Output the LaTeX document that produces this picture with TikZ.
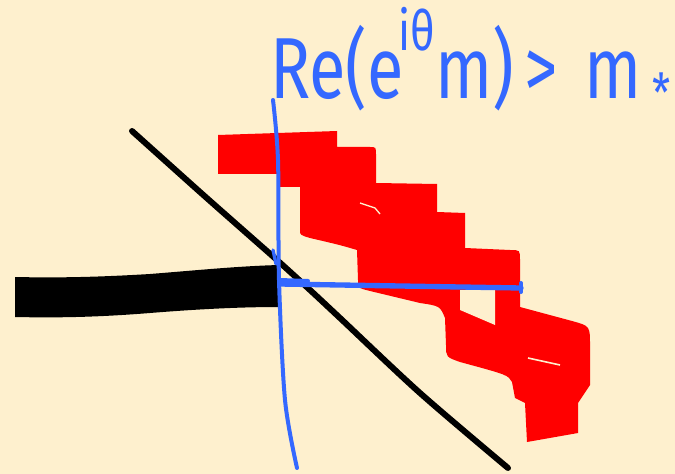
\documentclass[tikz,border=0pt]{standalone}
\usepackage{fontspec}
\usepackage{graphicx}
\setmainfont{Fira Sans}
\definecolor{paper}{RGB}{254,240,206}
\definecolor{pen}{RGB}{52,104,255}
\definecolor{marker}{RGB}{255,0,0}
\begin{document}
\begin{tikzpicture}[x=0.75pt,y=-0.75pt]
    \fill[paper] (0,0) rectangle (675,474);
    \useasboundingbox (0,0) rectangle (675,474);

    \fill[marker] (218,135) -- (337,131) -- (337,147) -- (370,147)
        .. controls (376,147) .. (376,155) -- (376,183) -- (437,184) -- (437,212)
        -- (465,213) -- (465,248) -- (510,250) .. controls (520,250) .. (520,260)
        -- (520,307) -- (572,321) .. controls (590,326) .. (590,345) -- (590,385)
        -- (578,403) -- (578,433) -- (527,442) -- (525,403) -- (515,398)
        -- (512,382) .. controls (508,375) .. (460,362) .. controls (446,357) .. (446,345)
        -- (445,318) .. controls (440,306) .. (420,303) -- (370,291)
        .. controls (358,288) .. (358,280) -- (357,250) .. controls (340,245) .. (310,238)
        .. controls (300,235) .. (300,230) -- (300,187) -- (279,187) -- (278,174)
        -- (218,174) -- cycle;
    \fill[paper] (460,290) -- (495,290) -- (495,325) -- (460,310) -- cycle;
    \draw[paper,line width=1pt] (360,203) -- (375,208) -- (380,214);
    \draw[paper,line width=1.2pt] (528,358) -- (560,365);

    \fill[black] (15,277) .. controls (60,278) and (100,277) .. (150,274)
        .. controls (200,270) and (240,266) .. (280,265)
        -- (280,307) .. controls (240,307) and (200,309) .. (150,313)
        .. controls (100,317) and (60,318) .. (15,317) -- cycle;
    \draw[black,line width=4.5pt,line cap=round] plot[smooth] coordinates
        {(132,131) (200,192) (243,230) (277,260) (310,290) (340,318) (420,393) (508,468)};

    \draw[pen,line width=3pt,line cap=round] plot[smooth] coordinates
        {(273,100) (278,160) (279,280) (285,400) (297,468)};
    \draw[pen,line width=2.5pt,line cap=round] (273,250) -- (276,264);
    \draw[pen,line width=4pt,line cap=round] (280,284) -- (400,286) -- (521,288);
    \draw[pen,line width=3pt,line cap=round] (280,280) -- (308,281);
    \draw[pen,line width=3pt,line cap=round] (521,283) -- (521,292);

    \node[pen,anchor=base west,inner sep=0pt] (cond) at (270,99)
        {\scalebox{1}[1.3]{\fontsize{50}{56}\selectfont
        Re(e\hspace{-4pt}\raisebox{28pt}{\fontsize{32}{36}\selectfont iθ}m)\,>\hspace{20pt}m\hspace{8pt}\raisebox{-8pt}{\fontsize{31}{34}\selectfont *}}};
\end{tikzpicture}
\end{document}
